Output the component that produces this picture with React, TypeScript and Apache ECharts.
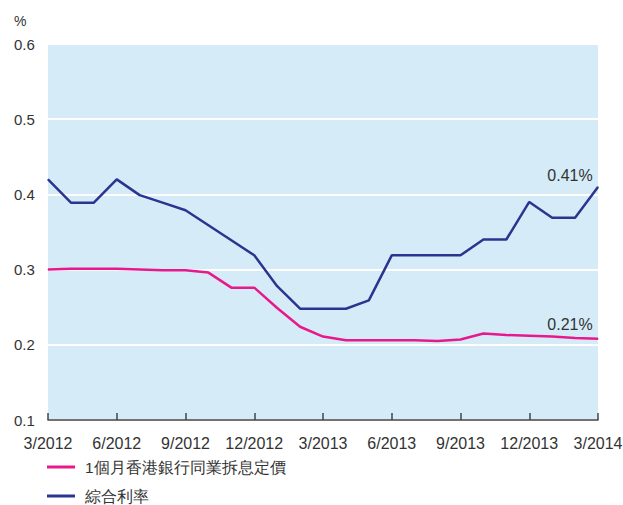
import React, { useEffect, useRef } from "react";
import * as echarts from "echarts";

const months: string[] = [
  "3/2012", "4/2012", "5/2012", "6/2012", "7/2012", "8/2012", "9/2012", "10/2012", "11/2012", "12/2012",
  "1/2013", "2/2013", "3/2013", "4/2013", "5/2013", "6/2013", "7/2013", "8/2013", "9/2013", "10/2013",
  "11/2013", "12/2013", "1/2014", "2/2014", "3/2014",
];
const hibor: number[] = [
  0.3, 0.301, 0.301, 0.301, 0.3, 0.299, 0.299, 0.296, 0.276, 0.276,
  0.249, 0.224, 0.211, 0.206, 0.206, 0.206, 0.206, 0.205, 0.207, 0.215,
  0.213, 0.212, 0.211, 0.209, 0.208,
];
const composite: number[] = [
  0.42, 0.389, 0.389, 0.42, 0.399, 0.389, 0.379, 0.359, 0.339, 0.319,
  0.278, 0.248, 0.248, 0.248, 0.259, 0.319, 0.319, 0.319, 0.319, 0.34,
  0.34, 0.39, 0.369, 0.369, 0.41,
];
const seriesNames: string[] = ["1個月香港銀行同業拆息定價", "綜合利率"];
const endLabels: string[] = ["0.21%", "0.41%"];
const yTicks: number[] = [0.1, 0.2, 0.3, 0.4, 0.5, 0.6];

const FONT = "'Liberation Sans', Arial, sans-serif";
const PINK = "#E8198B";
const BLUE = "#2B3590";

function withEndLabel(vals: number[], text: string, dy: number) {
  return vals.map((v, i) =>
    i === vals.length - 1
      ? {
          value: v,
          label: {
            show: true,
            position: "top",
            formatter: text,
            offset: [-28, dy],
            color: "#333",
            fontSize: 16,
            fontFamily: FONT,
          },
        }
      : v
  );
}

function legendFor(name: string, top: number) {
  return {
    orient: "horizontal",
    left: 47,
    top,
    padding: 0,
    itemWidth: 28,
    itemHeight: 3,
    icon: "rect",
    data: [name],
    textStyle: { fontSize: 15.5, color: "#333", fontFamily: FONT, padding: [0, 0, 0, 5] },
    selectedMode: false,
  };
}

export default function App() {
  const ref = useRef<HTMLDivElement>(null);
  useEffect(() => {
    if (!ref.current) return;
    const chart = echarts.init(ref.current, undefined, { renderer: "svg" });
    chart.setOption({
      animation: false,
      backgroundColor: "#fff",
      textStyle: { fontFamily: FONT },
      grid: {
        left: 48,
        right: 25,
        top: 44,
        bottom: 85,
        show: true,
        backgroundColor: "#D5ECF8",
        borderWidth: 0,
        containLabel: false,
        outerBoundsMode: "none",
      },
      legend: [legendFor(seriesNames[0], 459), legendFor(seriesNames[1], 488)],
      xAxis: {
        type: "category",
        data: months,
        boundaryGap: false,
        axisLine: { show: true, lineStyle: { color: "#444", width: 1.5 } },
        axisTick: { show: true, inside: true, length: 7, interval: 2, lineStyle: { color: "#444", width: 1.5 } },
        axisLabel: {
          interval: 2,
          margin: 15,
          fontSize: 16,
          color: "#333",
          fontFamily: FONT,
          hideOverlap: false,
        },
        splitLine: { show: false },
      },
      yAxis: {
        type: "value",
        min: yTicks[0],
        max: yTicks[yTicks.length - 1],
        interval: 0.1,
        name: "%",
        nameLocation: "end",
        nameGap: 16,
        nameTextStyle: { align: "left", padding: [0, 0, 0, -34], fontSize: 14, color: "#333", fontFamily: FONT },
        axisLine: { show: false },
        axisTick: { show: false },
        axisLabel: {
          align: "left",
          margin: 34,
          fontSize: 15,
          color: "#333",
          fontFamily: FONT,
          formatter: (v: number) => v.toFixed(1),
        },
        splitLine: { show: true, lineStyle: { color: "#fff", width: 2 } },
      },
      series: [
        {
          name: seriesNames[0],
          type: "line",
          data: withEndLabel(hibor, endLabels[0], -1),
          symbol: "circle",
          symbolSize: 1,
          showSymbol: true,
          color: PINK,
          itemStyle: { color: PINK },
          lineStyle: { width: 2.5, color: PINK },
        },
        {
          name: seriesNames[1],
          type: "line",
          data: withEndLabel(composite, endLabels[1], 2),
          symbol: "circle",
          symbolSize: 1,
          showSymbol: true,
          color: BLUE,
          itemStyle: { color: BLUE },
          lineStyle: { width: 2.5, color: BLUE },
        },
      ],
    });
    return () => chart.dispose();
  }, []);
  return <div ref={ref} style={{ width: 623, height: 505, position: "absolute", left: 0, top: 0 }} />;
}
